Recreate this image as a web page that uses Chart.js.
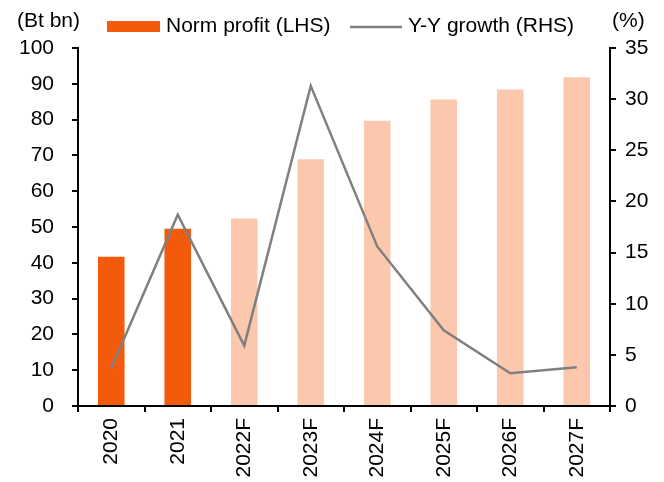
<!DOCTYPE html>
<html>
<head>
<meta charset="utf-8">
<script src="https://cdn.jsdelivr.net/npm/chart.js@4/dist/chart.umd.min.js"></script>
<style>
    body { margin: 0; background: #fff; }
    #wrap { width: 664px; height: 482px; position: relative; }
</style>
</head>
<body>
<div id="wrap"><canvas id="chart"></canvas></div>
<script>
const categories = ["2020", "2021", "2022F", "2023F", "2024F", "2025F", "2026F", "2027F"];
const normProfit = [41.7, 49.5, 52.4, 68.9, 79.7, 85.6, 88.4, 91.8];
const yoyGrowth = [3.7, 18.7, 5.9, 31.3, 15.6, 7.4, 3.2, 3.8];
const actualYears = 2;
const leftTicks = { min: 0, max: 100, step: 10 };
const rightTicks = { min: 0, max: 35, step: 5 };

const FONT = "'Liberation Sans', Arial, sans-serif";
const DARK = "#f35a0c";
const LIGHT = "#fbc8ae";
const GREY = "#808080";

const barColors = categories.map((c, i) => (i < actualYears ? DARK : LIGHT));

// legend + unit labels drawn by hand, the built-in legend can't do box + line like this
const headerPlugin = {
    id: "header",
    afterDraw(chart) {
        const ctx = chart.ctx;
        ctx.save();
        ctx.font = "21px " + FONT;
        ctx.fillStyle = "#000";
        ctx.textBaseline = "middle";
        ctx.textAlign = "left";

        ctx.fillText("(Bt bn)", 17, 21);
        ctx.fillText("(%)", 612, 21);

        ctx.fillStyle = DARK;
        ctx.fillRect(107, 21, 53, 11);
        ctx.fillStyle = "#000";
        ctx.fillText(chart.data.datasets[0].label, 166, 26);

        ctx.strokeStyle = GREY;
        ctx.lineWidth = 2.5;
        ctx.beginPath();
        ctx.moveTo(350, 27);
        ctx.lineTo(402, 27);
        ctx.stroke();
        ctx.fillText(chart.data.datasets[1].label, 408, 26);
        ctx.restore();
    }
};

const ctx = document.getElementById("chart").getContext("2d");

new Chart(ctx, {
    data: {
        labels: categories,
        datasets: [
            {
                type: "bar",
                label: "Norm profit (LHS)",
                data: normProfit,
                backgroundColor: barColors,
                barPercentage: 0.4,
                categoryPercentage: 1,
                yAxisID: "y",
                order: 1
            },
            {
                type: "line",
                label: "Y-Y growth (RHS)",
                data: yoyGrowth,
                borderColor: GREY,
                borderWidth: 2.5,
                pointRadius: 0,
                tension: 0,
                yAxisID: "y1",
                order: 0
            }
        ]
    },
    options: {
        responsive: true,
        maintainAspectRatio: false,
        animation: false,
        devicePixelRatio: 1,
        layout: {
            padding: { top: 48, left: 0, right: 0, bottom: 0 }
        },
        plugins: {
            legend: { display: false },
            tooltip: { enabled: false }
        },
        scales: {
            x: {
                offset: true,
                border: { color: "#000", width: 2 },
                grid: { drawOnChartArea: false, color: "#000", lineWidth: 2, tickLength: 6, offset: true },
                ticks: {
                    color: "#000",
                    font: { family: FONT, size: 21 },
                    minRotation: 90,
                    maxRotation: 90,
                    autoSkip: false,
                    padding: 6
                },
                afterFit(scale) {
                    scale.height = 76;
                }
            },
            y: {
                position: "left",
                min: leftTicks.min,
                max: leftTicks.max,
                border: { color: "#000", width: 2 },
                grid: { drawOnChartArea: false, color: "#000", lineWidth: 2, tickLength: 6 },
                ticks: {
                    stepSize: leftTicks.step,
                    color: "#000",
                    font: { family: FONT, size: 21 },
                    padding: 18
                },
                afterFit(scale) {
                    scale.width = 78;
                }
            },
            y1: {
                position: "right",
                min: rightTicks.min,
                max: rightTicks.max,
                border: { color: "#000", width: 2 },
                grid: { drawOnChartArea: false, color: "#000", lineWidth: 2, tickLength: 6 },
                ticks: {
                    stepSize: rightTicks.step,
                    color: "#000",
                    font: { family: FONT, size: 21 },
                    padding: 9
                },
                afterFit(scale) {
                    scale.width = 54;
                }
            }
        }
    },
    plugins: [headerPlugin]
});
</script>
</body>
</html>
